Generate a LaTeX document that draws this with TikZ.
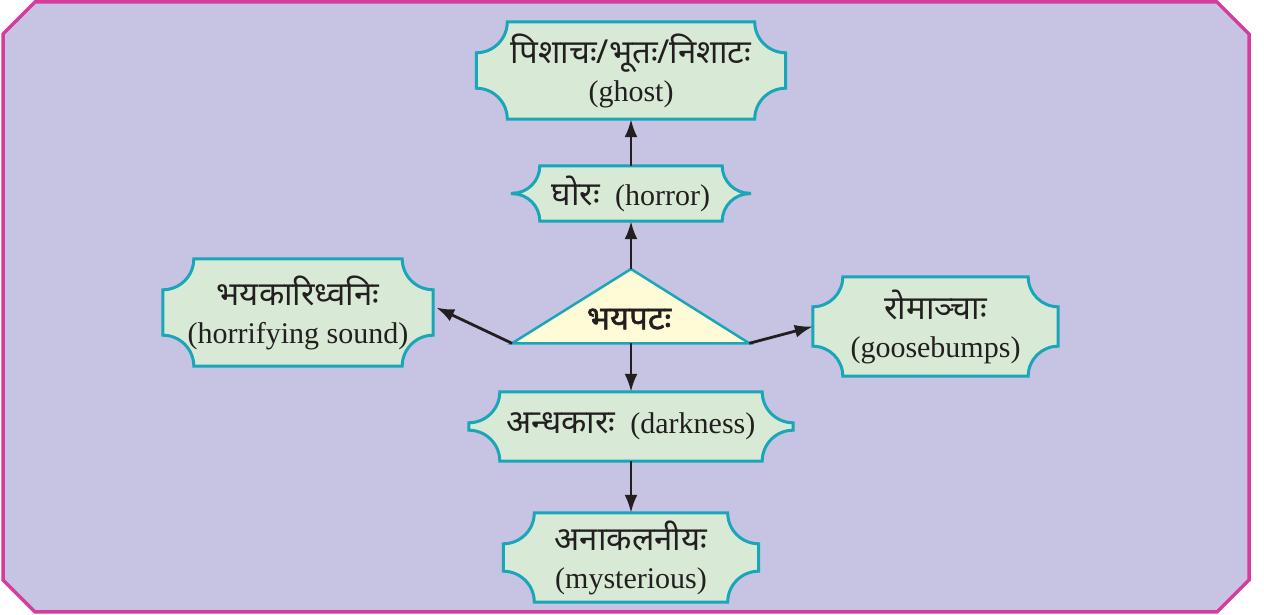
\documentclass[tikz,border=0pt]{standalone}
\usepackage{fontspec}
\setmainfont{Liberation Serif}
\newfontfamily\dev[Script=Devanagari,Scale=1.1]{Noto Sans}
\newfontfamily\devbold[Script=Devanagari,Scale=1.1,FakeBold=1.6]{Noto Sans}
\usetikzlibrary{arrows.meta,backgrounds,calc}
\definecolor{bgpurple}{HTML}{C7C3E3}
\definecolor{framemag}{HTML}{D63C9E}
\definecolor{boxgreen}{HTML}{D8EAD5}
\definecolor{tealline}{HTML}{19A6B8}
\definecolor{triyellow}{HTML}{FFFBD6}
\definecolor{ink}{HTML}{231F20}
\tikzset{
  lbl/.style={rectangle, inner sep=0pt, align=center, text=ink, font=\fontsize{30}{38}\selectfont},
  boxshape/.style={fill=boxgreen, draw=tealline, line width=3pt},
  trishape/.style={fill=triyellow, draw=tealline, line width=2.5pt, line join=miter},
  conn/.style={-{Latex[length=18pt,width=13pt]}, line width=2.8pt, draw=ink},
  framestyle/.style={fill=bgpurple, draw=framemag, line width=3.5pt},
}
\newcommand\scalbox[2]{%
  \path[boxshape] ($(#1.north west)+(#2pt,0)$) -- ($(#1.north east)+(-#2pt,0)$)
    arc[start angle=180,end angle=270,radius=#2pt]
    -- ($(#1.south east)+(0,#2pt)$)
    arc[start angle=90,end angle=180,radius=#2pt]
    -- ($(#1.south west)+(#2pt,0)$)
    arc[start angle=0,end angle=90,radius=#2pt]
    -- ($(#1.north west)+(0,-#2pt)$)
    arc[start angle=270,end angle=360,radius=#2pt] -- cycle;}
\begin{document}
\begin{tikzpicture}[x=1pt,y=1pt]
\useasboundingbox (0,0) rectangle (1264,615);
\begin{scope}[on background layer]
  \path[framestyle] (35,613) -- (1217,613) -- (1249,581) -- (1249,35) -- (1217,3) -- (35,3) -- (3,35) -- (3,581) -- cycle;
\end{scope}
% nodes
\node[lbl, minimum width=309pt, minimum height=97pt] (ghost) at (631,544.5)
  {{\dev पिशाचः/भूतः/निशाटः}\\(ghost)};
\node[lbl, minimum width=237pt, minimum height=55pt] (horror) at (631,421.5)
  {{\dev घोरः}\ \ (horror)};
\node[lbl, minimum width=270pt, minimum height=107pt] (sound) at (298,302.5)
  {{\dev भयकारिध्वनिः}\\(horrifying sound)};
\node[lbl, minimum width=245pt, minimum height=99pt] (goose) at (935.5,288.5)
  {{\dev रोमाञ्चाः}\\(goosebumps)};
\node[lbl, minimum width=324pt, minimum height=69pt] (dark) at (631,188.5)
  {{\dev अन्धकारः}\ \ (darkness)};
\node[lbl, minimum width=255pt, minimum height=89pt] (myst) at (631,57.5)
  {{\dev अनाकलनीयः}\\(mysterious)};
% triangle
\coordinate (tA) at (631,346);
\coordinate (tL) at (512,271.7);
\coordinate (tR) at (749.3,271.7);
\coordinate (tB) at (631,271.7);
\path[trishape] (tA) -- (tR) -- (tL) -- cycle;
\node[lbl] (center) at (629,296) {{\devbold भयपटः}};
\begin{scope}[on background layer]
  \scalbox{ghost}{31}
  \scalbox{horror}{27.5}
  \scalbox{sound}{31}
  \scalbox{goose}{30}
  \scalbox{dark}{31}
  \scalbox{myst}{31}
\end{scope}
% connectors
\draw[conn] (horror) -- (ghost);
\draw[conn] (tA) -- (horror);
\draw[conn] (tL) -- ([xshift=3pt,yshift=5pt]sound.east);
\draw[conn] (tR) -- (goose.west);
\draw[conn] (tB) -- (dark);
\draw[conn] (dark) -- (myst);
\end{tikzpicture}
\end{document}
